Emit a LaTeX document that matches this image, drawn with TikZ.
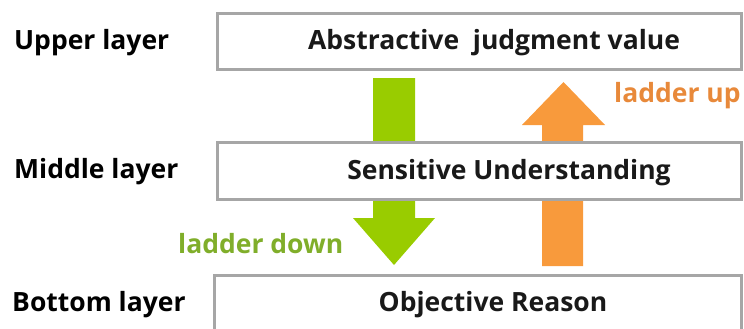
\documentclass[tikz,border=0pt]{standalone}
\usepackage{fontspec}
\setmainfont{Open Sans}
\begin{document}
\begin{tikzpicture}[x=1pt,y=-1pt,
  lbl/.style={font=\fontsize{26.5}{30}\selectfont\bfseries,anchor=base west,inner sep=0pt},
  boxtxt/.style={font=\fontsize{26.5}{30}\selectfont\bfseries,text=black!90,inner sep=0pt,anchor=base}]
\definecolor{boxgray}{HTML}{A6A6A6}
\definecolor{arrgreen}{HTML}{99CC00}
\definecolor{arrorange}{HTML}{F89A3C}
\definecolor{txtgreen}{HTML}{80AE2A}
\definecolor{txtorange}{HTML}{E8893A}
\useasboundingbox (0,0) rectangle (744,329);
% arrows (behind boxes)
\fill[arrgreen] (373,78) -- (415,78) -- (415,218) -- (435,218) -- (394,265) -- (353,218) -- (373,218) -- cycle;
\fill[arrorange] (542,266) -- (583,266) -- (583,125) -- (605,125) -- (563.5,82) -- (522,125) -- (542,125) -- cycle;
% boxes
\draw[boxgray,line width=3pt,fill=white] (217.5,13.5) rectangle (741.5,70) coordinate (tb);
\draw[boxgray,line width=3pt,fill=white] (217.5,142.5) rectangle (741.5,199) coordinate (mb);
\draw[boxgray,line width=3pt,fill=white] (214.5,275) rectangle (741.5,340) coordinate (bb);
\node[boxtxt] (t) at (494,50) {Abstractive\ \ judgment value};
\node[boxtxt] (m) at (509,179) {Sensitive Understanding};
\node[boxtxt] (b) at (493,311) {Objective Reason};
\node[lbl] (ul) at (14,49) {Upper layer};
\node[lbl] (ml) at (14,178) {Middle layer};
\node[lbl] (bl) at (12,311) {Bottom layer};
\node[lbl,text=txtorange] (lu) at (614,102) {ladder up};
\node[lbl,text=txtgreen] (ld) at (178,253) {ladder down};
\end{tikzpicture}
\end{document}
